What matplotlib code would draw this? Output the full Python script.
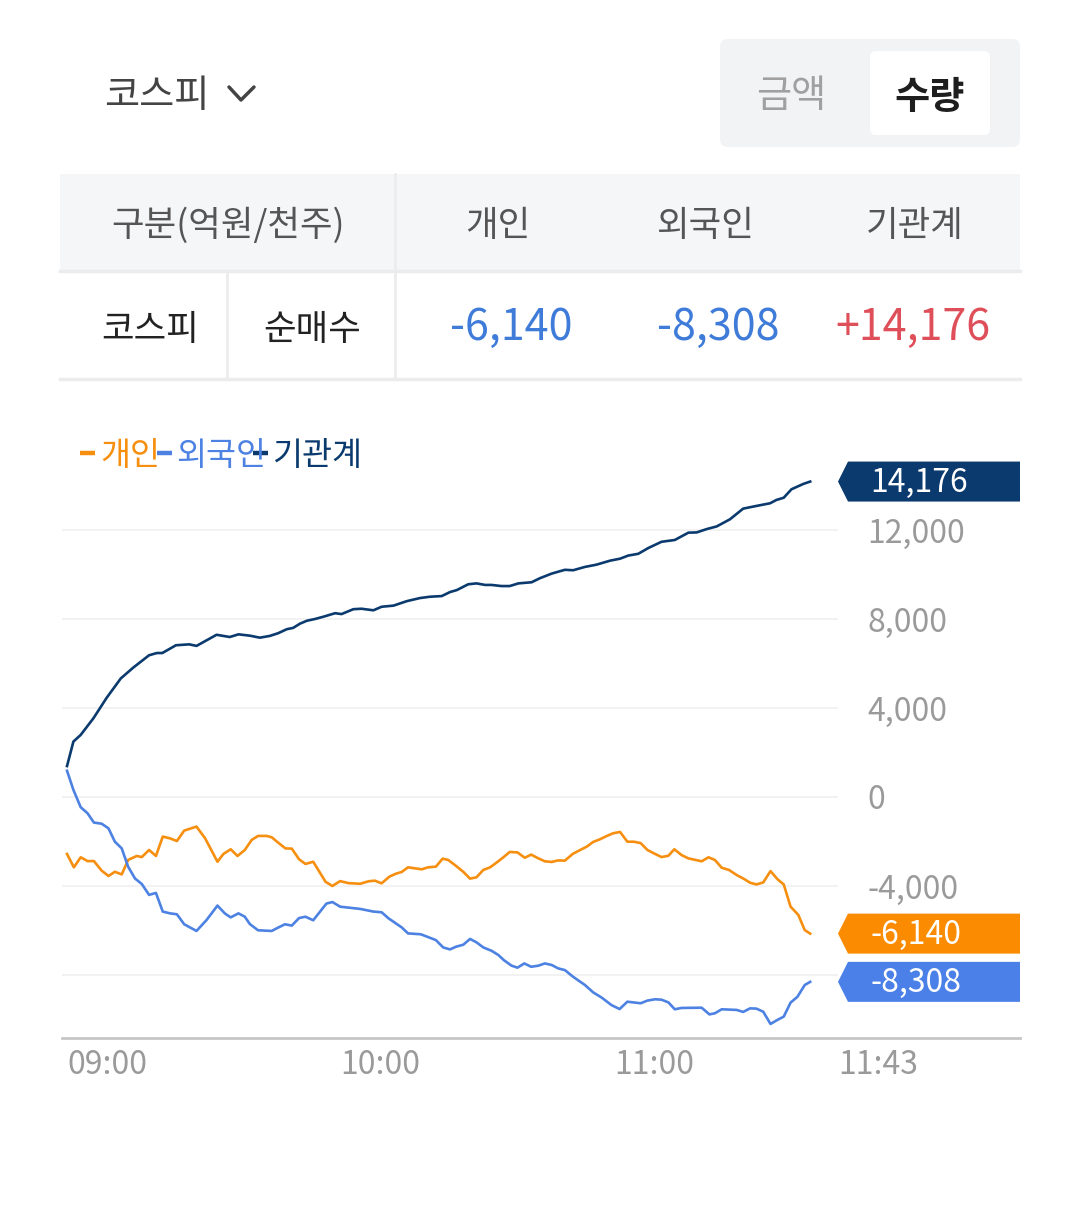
import matplotlib.pyplot as plt
from matplotlib.patches import Polygon, FancyBboxPatch, Rectangle

plt.rcParams['font.family'] = ['Noto Sans CJK KR', 'DejaVu Sans']

# minutes after 09:00, net buy volume (thousand shares)
inst_t = [0, 1.4, 3.0, 5.8, 8.7, 11.8, 14.5, 18.0, 19.7, 20.9, 23.9, 26.8, 28.4, 32.8, 35.7,
          37.6, 40.1, 42.3, 44.5, 46.3, 48.2, 49.6, 51.1, 52.6, 54.4, 56.2, 58.8, 60.2, 62.8, 64.6,
          67.2, 69.0, 71.6, 74.5, 77.4, 79.6, 82.2, 84.0, 85.5, 88.0, 89.8, 91.7, 93.1, 95.3, 97.1,
          99.0, 101.9, 103.7, 106.3, 109.2, 111.0, 113.6, 116.1, 119.1, 121.3, 123.1, 125.3, 127.5,
          130.4, 133.3, 136.3, 138.1, 140.3, 142.5, 145.4, 148.3, 151.2, 154.2, 155.6, 157.2, 158.9,
          161.5, 163.0]
inst_v = [1390, 2490, 2790, 3540, 4460, 5330, 5810, 6370, 6470, 6470, 6820, 6860, 6790, 7290, 7190,
          7310, 7250, 7160, 7240, 7360, 7540, 7600, 7790, 7920, 8000, 8100, 8260, 8220, 8440, 8460,
          8390, 8550, 8600, 8800, 8940, 9000, 9030, 9210, 9300, 9560, 9600, 9530, 9530, 9480, 9480,
          9600, 9650, 9830, 10040, 10210, 10190, 10340, 10440, 10620, 10710, 10850, 10930, 11190,
          11470, 11550, 11880, 11890, 12040, 12160, 12480, 12960, 13080, 13200, 13350, 13450, 13830,
          14070, 14176]

indiv_t = [0, 1.5, 3.0, 4.5, 5.9, 7.6, 9.1, 10.5, 12.0, 13.4, 15.3, 16.4, 18.0, 19.5, 21.0,
           22.6, 24.1, 25.7, 28.4, 30.3, 33.0, 34.3, 35.9, 37.4, 39.0, 40.5, 41.9, 43.8, 44.9, 46.3,
           47.9, 49.3, 50.9, 52.3, 54.0, 56.7, 58.2, 59.9, 61.7, 64.3, 66.1, 67.5, 69.0, 70.7, 72.1,
           73.4, 74.8, 77.8, 79.2, 80.9, 82.4, 83.6, 85.1, 86.9, 88.4, 89.8, 91.3, 92.8, 94.2, 95.7,
           97.1, 98.8, 100.4, 101.8, 103.4, 104.8, 106.3, 107.7, 109.2, 110.9, 112.1, 114.0, 115.4,
           116.9, 118.4, 119.8, 121.3, 122.9, 124.3, 125.8, 127.3, 129.0, 130.4, 131.9, 133.2, 134.8,
           136.3, 139.2, 140.7, 142.1, 143.6, 145.2, 146.9, 148.3, 149.8, 151.2, 152.7, 154.3, 155.8,
           157.2, 158.7, 160.4, 161.8, 163.0]
indiv_v = [-2560, -3160, -2710, -2880, -2880, -3310, -3550, -3360, -3480, -2830, -2650, -2700, -2380,
           -2650, -1780, -1860, -1980, -1510, -1330, -1860, -2910, -2560, -2350, -2650, -2380, -1930,
           -1750, -1750, -1810, -2050, -2310, -2320, -2800, -3010, -2910, -3810, -4000, -3780, -3870,
           -3900, -3790, -3760, -3880, -3580, -3450, -3370, -3160, -3250, -3160, -3130, -2770, -2830,
           -3060, -3360, -3670, -3610, -3280, -3160, -2950, -2710, -2470, -2490, -2730, -2590, -2760,
           -2890, -2920, -2850, -2860, -2560, -2430, -2230, -2020, -1900, -1750, -1630, -1570, -2010,
           -2010, -2070, -2380, -2560, -2700, -2640, -2350, -2610, -2760, -2890, -2710, -2830, -3180,
           -3280, -3510, -3660, -3850, -3930, -3840, -3330, -3690, -3930, -4930, -5300, -5980, -6140]

frgn_t = [0, 1.4, 3.0, 4.5, 5.9, 7.6, 9.1, 10.5, 12.0, 13.4, 14.9, 16.4, 18.0, 19.5, 21.0,
          22.6, 24.1, 25.7, 28.4, 30.6, 33.0, 34.6, 35.9, 37.6, 39.0, 40.1, 41.9, 44.9, 46.3, 47.8,
          49.3, 50.9, 52.3, 54.0, 56.9, 58.2, 59.9, 64.3, 67.2, 69.0, 70.5, 73.4, 74.8, 77.6, 80.9,
          82.5, 84.0, 85.3, 86.9, 88.4, 89.8, 91.3, 93.1, 94.6, 95.8, 97.5, 98.8, 100.3, 101.8, 103.4,
          104.8, 106.3, 107.7, 109.2, 111.0, 113.6, 115.4, 117.3, 119.4, 121.2, 122.9, 125.8, 127.3,
          129.0, 130.4, 131.9, 133.3, 134.8, 139.2, 140.9, 142.1, 143.6, 146.9, 148.3, 149.8, 151.2,
          152.7, 154.3, 155.8, 157.2, 158.7, 160.2, 161.8, 163.0]
frgn_v = [1180, 320, -460, -730, -1150, -1200, -1410, -2010, -2310, -3130, -3660, -3910, -4400,
          -4310, -5150, -5230, -5270, -5720, -6020, -5530, -4880, -5230, -5410, -5230, -5380, -5710,
          -5990, -6020, -5870, -5720, -5780, -5440, -5380, -5540, -4790, -4720, -4930, -5030, -5150,
          -5180, -5450, -5860, -6130, -6170, -6430, -6760, -6850, -6730, -6640, -6380, -6530, -6760,
          -6910, -7100, -7330, -7580, -7670, -7480, -7630, -7580, -7480, -7550, -7700, -7780, -8080,
          -8450, -8780, -9020, -9350, -9530, -9200, -9270, -9150, -9090, -9110, -9230, -9540, -9480,
          -9470, -9770, -9720, -9540, -9570, -9660, -9500, -9510, -9650, -10200, -10020, -9870, -9240,
          -8980, -8450, -8308]

y_ticks = [-8000, -4000, 0, 4000, 8000, 12000]
y_labels = ['-8,000', '-4,000', '0', '4,000', '8,000', '12,000']
x_ticks = [0, 60, 120]
x_labels = ['09:00', '10:00', '11:00', '11:43']

table_head = ['구분(억원/천주)', '개인', '외국인', '기관계']
table_vals = ['-6,140', '-8,308', '+14,176']

ORANGE = '#f68f0f'
BLUE = '#4d82e3'
NAVY = '#0b3a6e'
GRAY = '#9a9a9a'

W, H = 1080, 1223
fig = plt.figure(figsize=(W / 100, H / 100), dpi=100)
fig.patch.set_facecolor('white')

# background layer in pixel coordinates (header + table)
bg = fig.add_axes([0, 0, 1, 1])
bg.set_xlim(0, W)
bg.set_ylim(H, 0)
bg.axis('off')

bg.text(104, 97, '코스피', fontsize=27.5, color='#444444', va='center', ha='left')
bg.plot([229, 241, 254], [87, 100, 87], color='#444444', lw=2.5, solid_capstyle='round')

bg.add_patch(FancyBboxPatch((720, 39), 300, 108, boxstyle='round,pad=0,rounding_size=8',
                            fc='#f2f3f5', ec='none'))
bg.add_patch(FancyBboxPatch((870, 51), 120, 84, boxstyle='round,pad=0,rounding_size=6',
                            fc='white', ec='none'))
bg.text(791, 97, '금액', fontsize=27.5, color='#a0a0a0', va='center', ha='center')
bg.text(930, 97, '수량', fontsize=27.5, color='#1e1e1e', va='center', ha='center', fontweight='bold')

# table
bg.add_patch(Rectangle((60, 174), 960, 97, fc='#f5f6f8', ec='none'))
bg.plot([60, 1020], [271, 271], color='#ececec', lw=2.5)
bg.plot([60, 1020], [379, 379], color='#ececec', lw=2.5)
bg.plot([395, 395], [174, 379], color='#ececec', lw=2)
bg.plot([227, 227], [272, 379], color='#ececec', lw=2)

head_x = [228, 498, 705, 915]
for x, s in zip(head_x, table_head):
    bg.text(x, 226, s, fontsize=25.5, color='#555555', va='center', ha='center')
bg.text(150, 330, '코스피', fontsize=25.5, color='#222222', va='center', ha='center')
bg.text(312, 330, '순매수', fontsize=25.5, color='#222222', va='center', ha='center')
val_colors = ['#3f7bd8', '#3f7bd8', '#de4f5a']
for x, s, c in zip([511, 718, 913], table_vals, val_colors):
    bg.text(x, 328, s, fontsize=31, color=c, va='center', ha='center')

bg.plot([62, 1020], [1038, 1038], color='#c6c6c6', lw=2)

# chart
ax = fig.add_axes([62 / W, 1 - 1038 / H, 776 / W, 576 / H])
ax.set_facecolor('none')
ax.plot(indiv_t, indiv_v, color=ORANGE, lw=1.9, zorder=3)
ax.plot(frgn_t, frgn_v, color=BLUE, lw=1.9, zorder=3)
ax.plot(inst_t, inst_v, color=NAVY, lw=1.9, zorder=4)
ax.set_xlim(-1.1, 169.1)
ax.set_ylim(-10831, 15055)

ax.set_yticks(y_ticks)
ax.set_yticklabels(y_labels)
ax.yaxis.tick_right()
ax.tick_params(axis='y', length=0, pad=21, labelsize=23, labelcolor=GRAY)
ax.grid(axis='y', color='#f1f1f1', lw=1.3)
ax.set_axisbelow(True)

ax.set_xticks(x_ticks + [ax.get_xlim()[1]])
ax.set_xticklabels(x_labels, ha='left')
ax.tick_params(axis='x', length=0, pad=8, labelsize=23, labelcolor=GRAY)
for sp in ax.spines.values():
    sp.set_visible(False)

# overlay: legend + end value tags
top = fig.add_axes([0, 0, 1, 1])
top.set_xlim(0, W)
top.set_ylim(H, 0)
top.axis('off')

legend_items = [('개인', ORANGE, 80, 100), ('외국인', BLUE, 157, 176), ('기관계', NAVY, 253, 272)]
for name, col, dx, tx in legend_items:
    top.text(tx, 456, name, fontsize=23.5, color=col, va='center', ha='left')
    top.plot([dx, dx + 15], [453, 453], color=col, lw=3.2, solid_capstyle='butt')

for vals, col in [(inst_v, NAVY), (indiv_v, '#fb8b00'), (frgn_v, '#4a80e8')]:
    last = vals[-1]
    yc = H - ax.transData.transform((0, last))[1]
    top.add_patch(Polygon([(838, yc), (848, yc - 20), (1020, yc - 20), (1020, yc + 20), (848, yc + 20)],
                          closed=True, fc=col, ec='none'))
    top.text(870, yc + 1, f'{last:,}', fontsize=23, color='white', va='center', ha='left')

fig.savefig('out.png', dpi=100)
